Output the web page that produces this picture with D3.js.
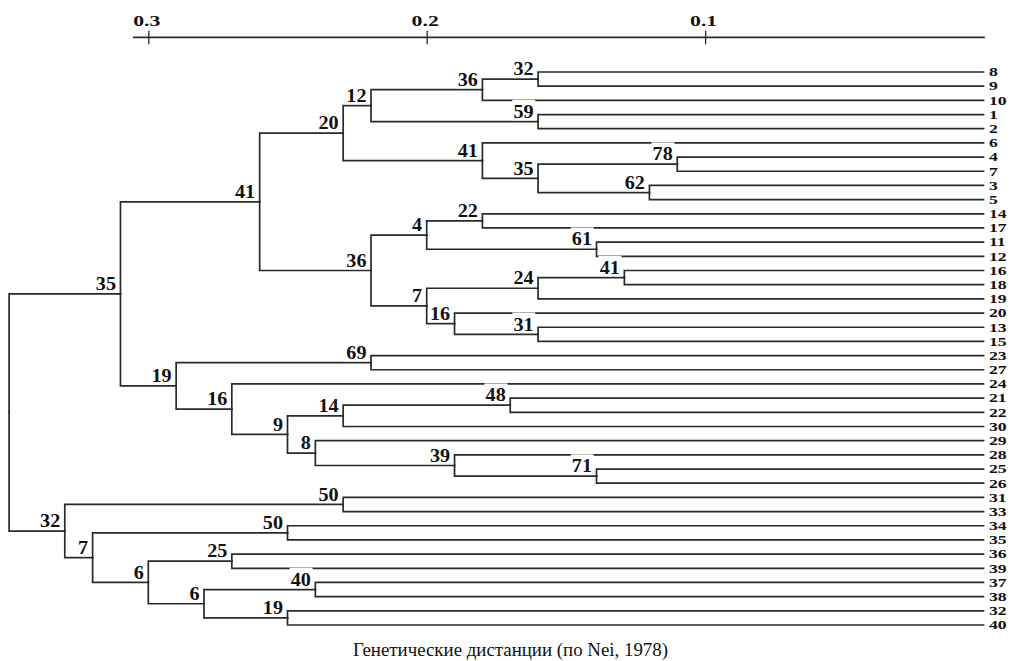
<!DOCTYPE html>
<html>
<head>
<meta charset="utf-8">
<script src="https://cdn.jsdelivr.net/npm/d3@7"></script>
<style>
  html, body { margin: 0; padding: 0; background: #fff; }
  svg { display: block; }
</style>
</head>
<body>
<svg id="chart" width="1014" height="661"></svg>
<script>
// ---- DATA ----
const leafOrder = ["8","9","10","1","2","6","4","7","3","5","14","17","11","12","16","18","19","20","13","15",
                   "23","27","24","21","22","30","29","28","25","26","31","33","34","35","36","39","37","38","32","40"];

// internal nodes: id, two children, genetic distance (height), bootstrap support
const nodeIds     = ["A","B","C","D","E","F","G","H","I","J","K","L","M","N","O","P","Q","R","S",
                     "T","U","V","W","X","Y","Z","AA","AB","AC","AD","AE","AF","AG","AH","AI","AJ","AK","AL","ROOT"];
const nodeLeft    = ["8","A","1","B","4","3","E","6","D","14","11","J","16","M","13","20","N","L","I",
                     "23","21","U","25","28","29","V","24","T","S","31","34","36","37","32","AG","AF","AE","AD","AC"];
const nodeRight   = ["9","10","2","C","7","5","F","G","H","17","12","K","18","19","15","O","P","Q","R",
                     "27","22","30","26","W","X","Y","Z","AA","AB","33","35","39","38","40","AH","AI","AJ","AK","AL"];
const nodeHeight  = [0.160,0.180,0.160,0.220,0.110,0.120,0.160,0.180,0.230,0.180,0.139,0.200,0.129,0.160,0.160,0.190,0.200,0.220,0.260,
                     0.220,0.170,0.230,0.139,0.190,0.240,0.250,0.270,0.290,0.310,0.230,0.250,0.270,0.240,0.250,0.280,0.300,0.320,0.330,0.350];
const nodeSupport = [32,36,59,12,78,62,35,41,20,22,61,4,41,24,31,16,7,36,41,
                     69,48,14,71,39,8,9,16,19,35,50,50,25,40,19,6,6,7,32,null];

const axisTicks  = [0.3, 0.2, 0.1];
const axisExtent = [0.3055, -0.0005];
const titleText  = "Генетические дистанции (по Nei, 1978)";

// ---- BUILD TREE ----
const nodeMap = new Map();
leafOrder.forEach(l => nodeMap.set(l, { name: l, height: 0, support: null, leaf: true }));
nodeIds.forEach((id, i) => {
  nodeMap.set(id, {
    name: id,
    height: nodeHeight[i],
    support: nodeSupport[i],
    leaf: false,
    children: [nodeMap.get(nodeLeft[i]), nodeMap.get(nodeRight[i])]
  });
});
const root = d3.hierarchy(nodeMap.get("ROOT"));

// ---- SCALES ----
const x = d3.scaleLinear().domain([0.3, 0]).range([148.3, 983.5]);
const yLeaf = d3.scalePoint().domain(leafOrder).range([72, 625]);

root.eachAfter(n => {
  n.px = x(n.data.height);
  if (!n.children) n.py = yLeaf(n.data.name);
  else n.py = d3.mean(n.children, c => c.py);
});

const svg = d3.select("#chart");
svg.append("rect").attr("width", 1014).attr("height", 661).attr("fill", "#fff");

const ink = "#2a2a2a";
const labelFont = "'Liberation Serif', 'Times New Roman', serif";

// ---- AXIS ----
const axisG = svg.append("g").attr("transform", "translate(0,37.3)");
axisG.append("line")
  .attr("x1", x(axisExtent[0])).attr("x2", x(axisExtent[1]))
  .attr("y1", 0).attr("y2", 0)
  .attr("stroke", ink).attr("stroke-width", 1.8);
const axis = d3.axisTop(x).tickValues(axisTicks).tickSizeOuter(0).tickFormat(d3.format(".1f"));
const ax = axisG.append("g").call(axis);
ax.select(".domain").remove();
ax.selectAll(".tick line").attr("y1", -6.5).attr("y2", 7).attr("stroke", ink).attr("stroke-width", 1.3);
ax.selectAll(".tick text")
  .attr("y", 0).attr("dy", 0)
  .attr("transform", "translate(-2,-11.3) scale(1.45,1)")
  .attr("font-family", labelFont)
  .attr("font-weight", "bold")
  .attr("font-size", 15)
  .attr("fill", "#111");

// ---- LINKS ----
const linkG = svg.append("g").attr("fill", "none").attr("stroke", ink).attr("stroke-width", 1.7)
  .attr("stroke-linecap", "square");
linkG.selectAll("path")
  .data(root.links())
  .join("path")
  .attr("d", l => `M${l.source.px},${l.source.py}V${l.target.py}H${l.target.px}`);

// ---- BOOTSTRAP LABELS ----
const internal = root.descendants().filter(n => n.children && n.data.support != null);
const lab = svg.append("g").selectAll("g")
  .data(internal)
  .join("g")
  .attr("transform", n => `translate(${n.px - 4.5},${n.py - 3.8}) scale(1.12,1)`);
lab.each(function(n) {
  const g = d3.select(this);
  const r = g.append("rect").attr("fill", "#fff");
  const t = g.append("text")
    .attr("text-anchor", "end")
    .attr("font-family", labelFont)
    .attr("font-weight", "bold")
    .attr("font-size", 18)
    .attr("fill", "#111")
    .text(n.data.support);
  const b = t.node().getBBox();
  const top = b.y - 2;
  const bottom = 2.4;
  r.attr("x", b.x - 1).attr("y", top).attr("width", b.width + 2.5).attr("height", bottom - top);
});

// ---- LEAF LABELS ----
svg.append("g").selectAll("text")
  .data(root.leaves())
  .join("text")
  .attr("transform", n => `translate(989,${n.py + 4.3}) scale(1.45,1)`)
  .attr("font-family", labelFont)
  .attr("font-weight", "bold")
  .attr("font-size", 12.2)
  .attr("fill", "#111")
  .text(n => n.data.name);

// ---- TITLE ----
svg.append("text")
  .attr("x", 510.5).attr("y", 655.5)
  .attr("text-anchor", "middle")
  .attr("font-family", labelFont)
  .attr("font-size", 19)
  .attr("fill", "#111")
  .attr("textLength", 315)
  .attr("lengthAdjust", "spacingAndGlyphs")
  .text(titleText);
</script>
</body>
</html>
